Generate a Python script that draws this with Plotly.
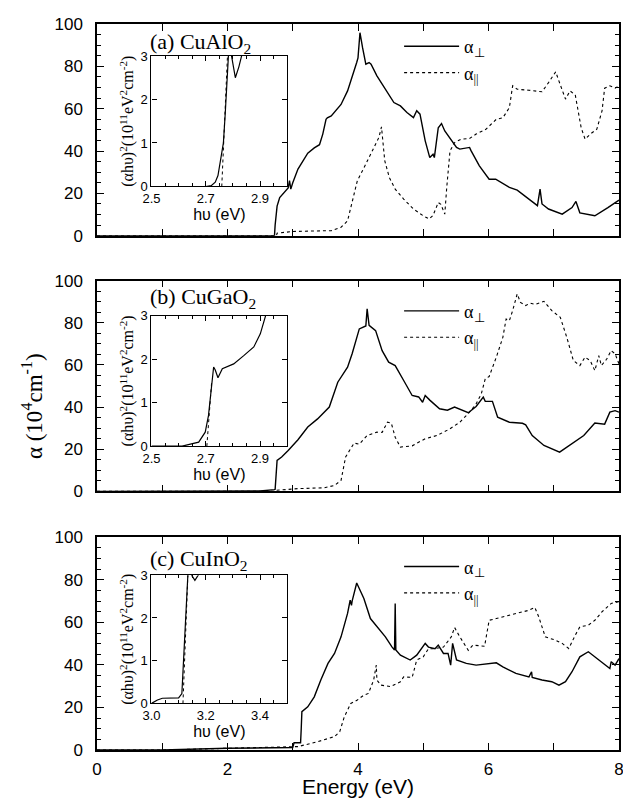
import plotly.graph_objects as go

# ---------------- data ----------------
# (a) CuAlO2
E_a_perp = [0, 2.72, 2.73, 2.76, 2.80, 2.86, 2.93, 2.95, 2.97, 3.00, 3.08, 3.23, 3.33, 3.41, 3.46, 3.51, 3.53, 3.59,
            3.74, 3.84, 3.91, 3.98, 4.00, 4.03, 4.07, 4.12, 4.17, 4.20, 4.29, 4.40, 4.55, 4.65, 4.75, 4.85, 4.90,
            4.95, 5.03, 5.10, 5.15, 5.17, 5.23, 5.28, 5.33, 5.51, 5.56, 5.71, 5.73, 5.86, 6.01, 6.11, 6.32, 6.44,
            6.62, 6.75, 6.79, 6.82, 6.92, 7.13, 7.28, 7.34, 7.40, 7.63, 7.83, 8.0]
a_perp = [0, 0, 5, 14, 18, 20, 22.6, 26, 22, 25, 31.5, 39, 41.5, 43, 48, 55, 55.7, 56.6,
          62, 68.4, 74.7, 81.8, 84, 95.9, 88.8, 81, 81.8, 81, 75.5, 70, 62.9, 61.3, 58.2, 55.8, 59,
          57.4, 44.8, 36.9, 38.5, 36.9, 51, 53, 49.5, 41.7, 40.9, 41.7, 40.3, 33, 26.7, 26.7, 22.8, 21.5,
          17.3, 14.2, 22, 15, 12.6, 10.2, 13.3, 16.2, 10.8, 9.4, 13.3, 16.8]
E_a_par = [0, 2.75, 2.76, 3.0, 3.59, 3.74, 3.84, 3.91, 3.99, 4.09, 4.24, 4.32, 4.36, 4.41, 4.48, 4.57, 4.70, 4.85,
           5.00, 5.09, 5.15, 5.23, 5.27, 5.33, 5.36, 5.41, 5.48, 5.58, 5.71, 5.81, 5.96, 6.12, 6.22, 6.32, 6.37,
           6.44, 6.62, 6.82, 6.92, 7.03, 7.08, 7.18, 7.25, 7.33, 7.42, 7.48, 7.56, 7.66, 7.74, 7.78, 7.86, 7.94, 8.0]
a_par = [0, 0, 1.2, 2, 2.4, 4, 7, 16.5, 26, 32, 41.7, 46.4, 51.4, 35.4, 27.5, 22, 17.3, 12.6,
         9.4, 7.9, 9.6, 15.7, 14.8, 10.2, 22.8, 40, 44, 45.6, 45.9, 48, 50.3, 55, 55.7, 60.5, 70.8,
         69.2, 68.7, 68, 72.3, 77.4, 73, 64.5, 68.4, 66.5, 51, 45.6, 48, 50.3, 59, 69.7, 70.8, 69.7, 70.8]

# (b) CuGaO2
E_b_perp = [0, 2.5, 2.72, 2.73, 2.76, 2.83, 2.93, 3.08, 3.23, 3.38, 3.56, 3.69, 3.84, 3.91, 4.02, 4.12, 4.14, 4.17,
            4.27, 4.37, 4.47, 4.57, 4.70, 4.83, 4.93, 4.99, 5.03, 5.10, 5.25, 5.37, 5.48, 5.69, 5.81, 5.92, 5.95,
            6.06, 6.14, 6.32, 6.52, 6.57, 6.67, 6.85, 7.09, 7.28, 7.46, 7.63, 7.78, 7.86, 7.94, 8.0]
b_perp = [0, 0.2, 0.8, 1, 14.7, 16.3, 19.4, 24.5, 30.5, 34.4, 40, 51.8, 58.9, 65.3, 77.1, 78.5, 86.6, 78.8,
          76.3, 66.8, 61.3, 59.7, 52.6, 45.5, 44.8, 42.3, 45.5, 43.3, 39.2, 38.5, 40, 37.3, 40.3, 44.7, 42.7,
          42.7, 35.2, 32.8, 32.3, 31.6, 26.5, 21.8, 18.6, 22.6, 26.5, 32.4, 31.9, 37.6, 38.3, 37.6]
E_b_par = [0, 2.73, 2.75, 3.08, 3.48, 3.64, 3.74, 3.81, 3.94, 4.02, 4.14, 4.29, 4.37, 4.45, 4.51, 4.57, 4.65, 4.83,
           5.03, 5.21, 5.41, 5.56, 5.71, 5.81, 5.89, 5.95, 6.01, 6.12, 6.22, 6.27, 6.32, 6.37, 6.44, 6.49, 6.57,
           6.64, 6.72, 6.85, 6.97, 7.10, 7.20, 7.30, 7.40, 7.48, 7.56, 7.63, 7.69, 7.73, 7.81, 7.88, 7.94, 8.0]
b_par = [0, 0, 0.5, 1.3, 1.7, 2.8, 5.2, 16.3, 22.9, 22.4, 26.5, 28.1, 28, 32.8, 32.4, 25.7, 21, 21.6,
         25, 26.5, 29.7, 32.8, 37.6, 41.5, 46.3, 53.4, 54.5, 63.7, 73.1, 81.8, 81, 85.8, 93.7, 89.7, 88.2,
         89.3, 88.7, 90.2, 85.8, 82.6, 73.1, 62.1, 59.7, 63.7, 62, 57.3, 64.4, 59.7, 62.7, 66.8, 65.3, 60.5]

# (c) CuInO2
E_c_perp = [0, 1.0, 2.0, 2.9, 3.0, 3.02, 3.12, 3.13, 3.14, 3.23, 3.33, 3.43, 3.54, 3.64, 3.74, 3.84, 3.88, 3.90,
            3.91, 3.98, 4.02, 4.09, 4.19, 4.32, 4.42, 4.52, 4.56, 4.57, 4.58, 4.65, 4.80, 4.90, 5.03, 5.08, 5.18,
            5.23, 5.31, 5.38, 5.42, 5.45, 5.51, 5.66, 5.81, 6.12, 6.22, 6.42, 6.62, 6.66, 6.67, 6.82, 6.97, 7.08,
            7.18, 7.28, 7.40, 7.53, 7.63, 7.78, 7.86, 7.88, 7.94, 8.0]
c_perp = [0, 0, 0.8, 1, 1.2, 3.4, 3.4, 10, 18, 20.3, 25, 32.9, 40.7, 45.4, 53.2, 64.2, 70.4, 68,
          70, 78.5, 76, 71.2, 61.8, 57.1, 53.2, 48.5, 47, 68.9, 47, 44.6, 42.3, 44.6, 50.1, 48.4, 47.6,
          49.3, 45.4, 45.4, 39.9, 50.1, 42.3, 40.7, 39.9, 41, 39.1, 36, 34.4, 36.8, 34.1, 32.9, 32.1, 30.5,
          32.1, 36.8, 43.8, 46.2, 43.8, 39.9, 38.3, 41.5, 39.9, 43]
E_c_par = [0, 1.0, 2.0, 3.0, 3.08, 3.38, 3.64, 3.72, 3.79, 3.89, 3.99, 4.09, 4.16, 4.24, 4.28, 4.29, 4.35, 4.50,
           4.65, 4.70, 4.83, 4.90, 5.00, 5.08, 5.15, 5.31, 5.43, 5.48, 5.56, 5.69, 5.76, 5.94, 6.01, 6.12, 6.32,
           6.52, 6.62, 6.71, 6.77, 6.87, 7.03, 7.13, 7.23, 7.33, 7.40, 7.53, 7.63, 7.74, 7.88, 8.0]
c_par = [0, 0, 0.8, 1.3, 1.6, 3.9, 6.3, 8.6, 15.6, 21.9, 23.5, 25.8, 26.6, 32.9, 39.9, 32.9, 30.5, 29.8,
         32.1, 34.4, 34.1, 42.3, 43.8, 47.6, 47.6, 48.4, 53.2, 57.6, 53.2, 46.9, 49.3, 48.8, 61, 61.8, 63.4,
         65, 65.7, 67, 62.6, 53.2, 51.6, 50.1, 47.7, 54, 57.9, 58.7, 61, 65, 68.9, 69.7]

# insets: (alpha h nu)^2
ins_a_x = [2.5, 2.70, 2.72, 2.735, 2.745, 2.755, 2.765, 2.772, 2.778, 2.782, 2.787, 2.795, 2.809, 2.822, 2.833, 2.84]
ins_a_y = [0, 0, 0.02, 0.1, 0.25, 0.6, 1.0, 1.7, 2.4, 3.0, 3.4, 3.0, 2.5, 2.75, 3.0, 3.2]
fit_a_x = [2.759, 2.780]
fit_a_y = [0, 3.0]

ins_b_x = [2.5, 2.613, 2.674, 2.698, 2.71, 2.72, 2.729, 2.735, 2.745, 2.761, 2.779, 2.803, 2.84, 2.877, 2.901, 2.92, 2.93]
ins_b_y = [0, 0, 0.09, 0.32, 0.7, 1.36, 1.82, 1.75, 1.57, 1.78, 1.83, 1.89, 2.08, 2.28, 2.58, 2.97, 3.2]
fit_b_x = [2.704, 2.722]
fit_b_y = [0, 1.5]

ins_c_x = [3.0, 3.022, 3.04, 3.10, 3.112, 3.118, 3.127, 3.134, 3.14, 3.148, 3.16, 3.172, 3.18]
ins_c_y = [0, 0.078, 0.12, 0.13, 0.23, 1.01, 2.18, 3.0, 3.2, 3.0, 2.88, 3.0, 3.2]
fit_c_x = [3.116, 3.134]
fit_c_y = [0, 3.0]

panel_titles = ["(a) CuAlO<sub>2</sub>", "(b) CuGaO<sub>2</sub>", "(c) CuInO<sub>2</sub>"]
main_ticks = [0, 2, 4, 6, 8]
main_ticktext = ["0", "2", "4", "6", "8"]
perp_name = "α<sub>⊥</sub>"
par_name = "α<sub>||</sub>"

# ---------------- figure ----------------
fig = go.Figure()
SANS = "Liberation Sans"
SERIF = "Liberation Serif"

main = [(E_a_perp, a_perp, E_a_par, a_par), (E_b_perp, b_perp, E_b_par, b_par), (E_c_perp, c_perp, E_c_par, c_par)]
legends = ["legend", "legend2", "legend3"]
for i, (ex, ey, px, py) in enumerate(main):
    xa = "x" if i == 0 else f"x{i+1}"
    ya = "y" if i == 0 else f"y{i+1}"
    fig.add_trace(go.Scatter(x=ex, y=ey, mode="lines", name=perp_name, xaxis=xa, yaxis=ya,
                             line=dict(color="black", width=1.4), legend=legends[i]))
    fig.add_trace(go.Scatter(x=px, y=py, mode="lines", name=par_name, xaxis=xa, yaxis=ya,
                             line=dict(color="black", width=1.1, dash="dot"), legend=legends[i]))

insets = [(ins_a_x, ins_a_y, fit_a_x, fit_a_y), (ins_b_x, ins_b_y, fit_b_x, fit_b_y), (ins_c_x, ins_c_y, fit_c_x, fit_c_y)]
for i, (sx, sy, fx, fy) in enumerate(insets):
    xa = f"x{i+4}"
    ya = f"y{i+4}"
    fig.add_trace(go.Scatter(x=sx, y=sy, mode="lines", xaxis=xa, yaxis=ya, showlegend=False,
                             line=dict(color="black", width=1.2)))
    fig.add_trace(go.Scatter(x=fx, y=fy, mode="lines", xaxis=xa, yaxis=ya, showlegend=False,
                             line=dict(color="black", width=1, dash="dot")))

# geometry: the page body adds an 8px offset; the figure is sized so the page does not scroll
OFF = 8
W, H = 623, 790
L, T = 97 - OFF, 23 - OFF
R = W - (624 - OFF)
B = H - (750 - OFF)
PW, PH = W - L - R, H - T - B


def px2x(px):
    return (px - OFF - L) / PW


def py2y(py):
    return (H - B - (py - OFF)) / PH


main_dom = [(py2y(235), py2y(23)), (py2y(491), py2y(280)), (py2y(750), py2y(537))]
ins_xdom = (px2x(152), px2x(289))
ins_ydom = [(py2y(185.7), py2y(55)), (py2y(445.7), py2y(315)), (py2y(703.3), py2y(575))]
ins_xrange = [(2.5, 3.0), (2.5, 3.0), (3.0, 3.5)]
ins_xticks = [[2.5, 2.7, 2.9], [2.5, 2.7, 2.9], [3.0, 3.2, 3.4]]
ins_xtext = [["2.5", "2.7", "2.9"], ["2.5", "2.7", "2.9"], ["3.0", "3.2", "3.4"]]

axline = dict(showline=True, linecolor="black", linewidth=1.5, mirror="allticks", ticks="inside",
              tickcolor="black", showgrid=False, zeroline=False)

layout = {}
for i in range(3):
    xk = "xaxis" if i == 0 else f"xaxis{i+1}"
    yk = "yaxis" if i == 0 else f"yaxis{i+1}"
    ya = "y" if i == 0 else f"y{i+1}"
    xa = "x" if i == 0 else f"x{i+1}"
    layout[xk] = dict(axline, domain=[0, 1], anchor=ya, range=[0, 8], tickvals=main_ticks,
                      ticktext=main_ticktext, showticklabels=(i == 2), ticklen=7, ticklabelstandoff=3,
                      minor=dict(dtick=1, ticklen=7, ticks="inside", tickcolor="black"),
                      tickfont=dict(family=SANS, size=17, color="black"))
    layout[yk] = dict(axline, domain=[max(0, main_dom[i][0]), min(1, main_dom[i][1])], anchor=xa, range=[0, 100],
                      tickvals=[0, 20, 40, 60, 80, 100], ticklabelstandoff=9,
                      ticklen=7, minor=dict(dtick=5, ticklen=4, ticks="inside", tickcolor="black"),
                      tickfont=dict(family=SANS, size=17, color="black"))
    # insets
    layout[f"xaxis{i+4}"] = dict(axline, linewidth=1.2, domain=list(ins_xdom), anchor=f"y{i+4}",
                                 range=list(ins_xrange[i]), tickvals=ins_xticks[i], ticktext=ins_xtext[i],
                                 ticklen=5, minor=dict(dtick=0.05, ticklen=3, ticks="inside", tickcolor="black"),
                                 tickfont=dict(family=SANS, size=13, color="black"),
                                 title=dict(text="hυ (eV)", font=dict(family=SANS, size=16, color="black"), standoff=0))
    layout[f"yaxis{i+4}"] = dict(axline, linewidth=1.2, domain=list(ins_ydom[i]), anchor=f"x{i+4}",
                                 range=[0, 3], tickvals=[0, 1, 2, 3], ticklen=5,
                                 tickfont=dict(family=SANS, size=13, color="black"),
                                 title=dict(text="(αhυ)<sup>2</sup>(10<sup>11</sup>eV<sup>2</sup>cm<sup>-2</sup>)",
                                            font=dict(family=SERIF, size=16, color="black"), standoff=2))

leg_top_px = [27, 292, 548]
for i, lk in enumerate(legends):
    layout[lk] = dict(x=px2x(402), y=py2y(leg_top_px[i]), xanchor="left", yanchor="top", bgcolor="rgba(0,0,0,0)",
                      font=dict(family=SERIF, size=18, color="black"), tracegroupgap=0, itemwidth=55)

fig.update_layout(**layout)

title_px = [(148, 42), (148, 297), (148, 560)]
for i, t in enumerate(panel_titles):
    fig.add_annotation(text=t, xref="paper", yref="paper", x=px2x(title_px[i][0]), y=py2y(title_px[i][1]),
                       xanchor="left", yanchor="middle", showarrow=False,
                       font=dict(family=SERIF, size=22, color="black"))

fig.add_annotation(text="α (10<sup>4</sup>cm<sup>-1</sup>)", xref="paper", yref="paper", x=px2x(32), y=py2y(406),
                   textangle=-90, showarrow=False, xanchor="center", yanchor="middle",
                   font=dict(family=SERIF, size=23, color="black"))
fig.add_annotation(text="Energy (eV)", xref="paper", yref="paper", x=px2x(360), y=py2y(799), xanchor="center",
                   yanchor="bottom", showarrow=False, borderpad=0, font=dict(family=SANS, size=21, color="black"))

fig.update_layout(width=W, height=H, margin=dict(l=L, r=R, t=T, b=B),
                  paper_bgcolor="white", plot_bgcolor="white")

fig.write_html("out.html")
